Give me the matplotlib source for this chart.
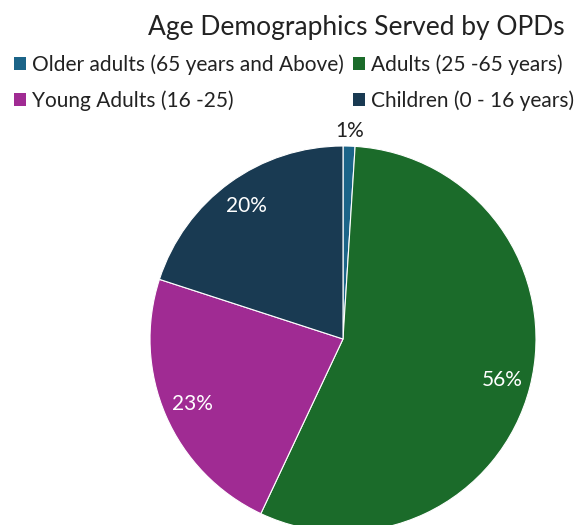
import matplotlib.pyplot as plt

plt.rcParams['font.family'] = ['Lato', 'DejaVu Sans']

labels = ['Older adults (65 years and Above)', 'Adults (25 -65 years)',
          'Young Adults (16 -25)', 'Children (0 - 16 years)']
values = [1, 56, 23, 20]
colors = ['#1B6488', '#1B6B2A', '#A02B93', '#193A52']

fig = plt.figure(figsize=(5.79, 5.25), dpi=100)
ax = fig.add_axes([0, 0, 1, 1])

wedges, texts, autotexts = ax.pie(
    values, colors=colors, startangle=90, counterclock=False,
    autopct='%1.0f%%', pctdistance=0.85,
    wedgeprops=dict(edgecolor='white', linewidth=0.8),
    textprops=dict(color='white', fontsize=15))
# small slice label sits outside
autotexts[0].set_color('#222222')
x, y = autotexts[0].get_position()
autotexts[0].set_position((x / 0.85 * 1.08, y / 0.85 * 1.08))

# place pie center at about (343, 339) px, radius 193 px
ax.set_aspect('auto')
ax.set_xlim(-343 / 193, (579 - 343) / 193)
ax.set_ylim(-(525 - 339) / 193, 339 / 193)
ax.axis('off')

fig.text(0.615, 0.948, 'Age Demographics Served by OPDs', ha='center', va='center',
         fontsize=19, color='#222222')

order = [0, 2, 1, 3]
leg = fig.legend([wedges[i] for i in order], [labels[i] for i in order],
                 ncol=2, loc='upper left', bbox_to_anchor=(0.01, 0.913),
                 frameon=False, fontsize=15, handlelength=0.55, handleheight=0.55,
                 handletextpad=0.3, columnspacing=0.45, labelspacing=0.75,
                 borderaxespad=0)
for t in leg.get_texts():
    t.set_color('#222222')
for h in leg.legend_handles:
    h.set_edgecolor('none')

fig.savefig('out.png', dpi=100)
